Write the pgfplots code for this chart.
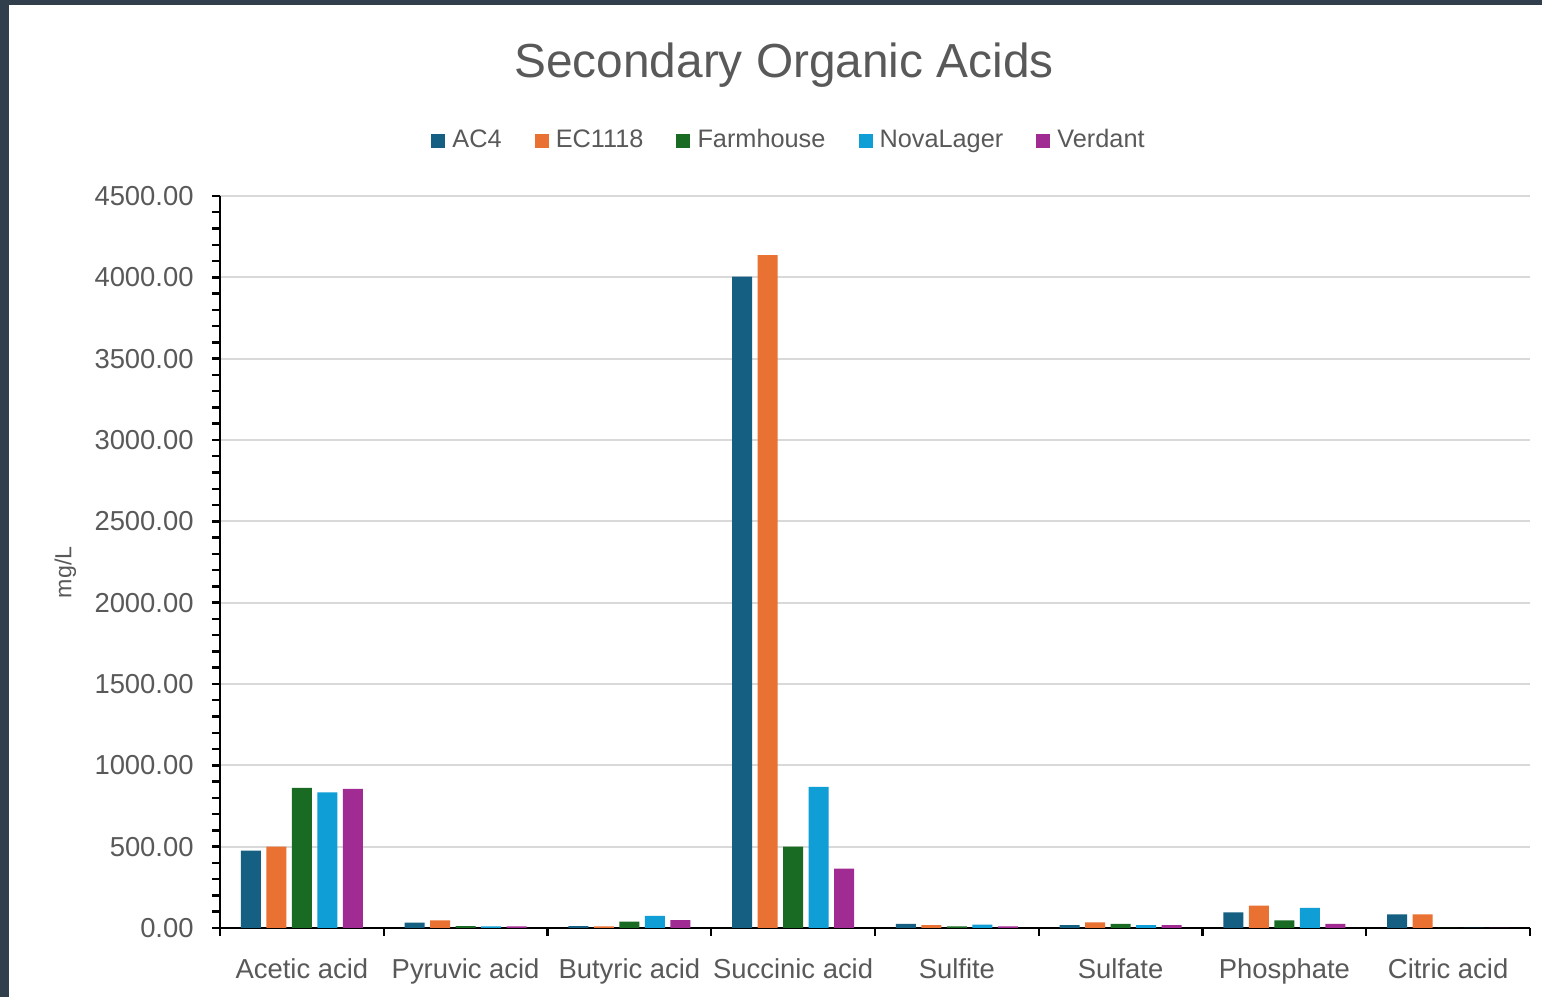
\documentclass[border=0pt]{standalone}
\usepackage{fontspec}
\setmainfont{Liberation Sans}
\usepackage{pgfplots}
\pgfplotsset{compat=1.18}
\definecolor{frame}{RGB}{49,62,75}
\definecolor{txt}{RGB}{89,89,89}
\definecolor{cAC}{HTML}{156082}
\definecolor{cEC}{HTML}{E97132}
\definecolor{cFH}{HTML}{196B24}
\definecolor{cNL}{HTML}{0F9ED5}
\definecolor{cVE}{HTML}{A02B93}
\begin{document}
\begin{tikzpicture}
\fill[frame] (0,0) rectangle (154.2mm,99.7mm);
\fill[white] (0.9mm,0) rectangle (154.2mm,99.2mm);
\path[use as bounding box] (0,0) rectangle (154.2mm,99.7mm);
\node[anchor=base, text=txt, font=\fontsize{13.6}{16}\selectfont] at (78.4mm,91.9mm) {Secondary Organic Acids};
\begin{axis}[
  at={(22mm,6.9mm)}, anchor=south west,
  scale only axis, width=131mm, height=73.2mm,
  ybar=0.55mm, bar width=2mm,
  xmin=-0.5, xmax=7.5, ymin=0, ymax=4500,
  axis lines*=left,
  axis line style={black, line width=0.8pt},
  xtick={0,...,7},
  xticklabels={Acetic acid, Pyruvic acid, Butyric acid, Succinic acid, Sulfite, Sulfate, Phosphate, Citric acid},
  minor xtick={-0.5,0.5,...,7.5},
  major x tick style={draw=none},
  ytick={0,500,...,4500},
  minor y tick num=4,
  tick align=outside,
  major tick length=0.8mm, minor tick length=0.8mm,
  tick style={black, line width=0.7pt},
  ymajorgrids,
  major grid style={color=black!15, line width=0.5pt},
  /pgf/number format/.cd, fixed, fixed zerofill, precision=2, 1000 sep={}, assume math mode=true,
  /pgfplots/.cd,
  ticklabel style={text=txt, font=\fontsize{7.8}{9}\selectfont},
  yticklabel style={xshift=-1.7pt},
  xticklabel style={yshift=-3pt},
  ylabel={mg/L},
  ylabel style={at={(axis description cs:-0.118,0.486)}, anchor=center, text=txt, font=\fontsize{6.6}{8}\selectfont},
  legend columns=5,
  legend style={at={(0.4363,1.0752)}, anchor=center, draw=none, fill=none,
    font=\fontsize{7.2}{9}\selectfont, text=txt,
    /tikz/every even column/.append style={column sep=2.6mm}},
  legend image code/.code={\fill[#1] (0mm,-0.7mm) rectangle (1.4mm,0.7mm);},
]
\addplot[fill=cAC, draw=none] coordinates {(0,475) (1,33) (2,12) (3,4004) (4,25) (5,18) (6,96) (7,84)};
\addplot[fill=cEC, draw=none] coordinates {(0,500) (1,47) (2,10) (3,4136) (4,18) (5,35) (6,137) (7,84)};
\addplot[fill=cFH, draw=none] coordinates {(0,861) (1,12) (2,39) (3,500) (4,10) (5,25) (6,47) (7,0)};
\addplot[fill=cNL, draw=none] coordinates {(0,834) (1,10) (2,74) (3,867) (4,20) (5,18) (6,123) (7,0)};
\addplot[fill=cVE, draw=none] coordinates {(0,855) (1,10) (2,49) (3,365) (4,10) (5,18) (6,25) (7,0)};
\legend{AC4, EC1118, Farmhouse, NovaLager, Verdant}
\end{axis}
\end{tikzpicture}
\end{document}
